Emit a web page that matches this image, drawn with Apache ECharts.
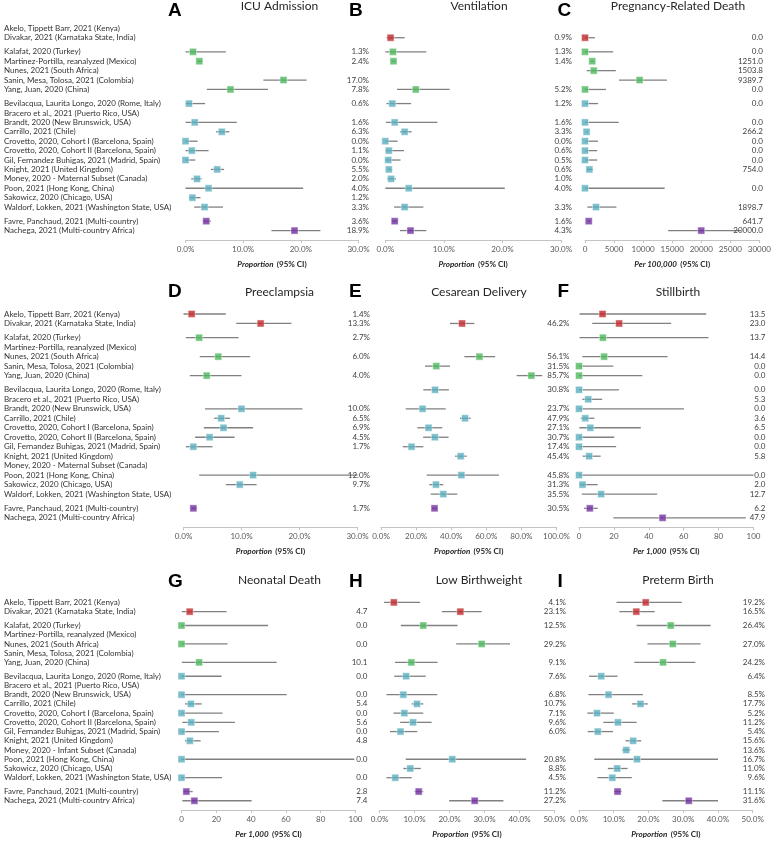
<!DOCTYPE html>
<html><head><meta charset="utf-8">
<script src="https://cdn.jsdelivr.net/npm/echarts@6/dist/echarts.min.js"></script>
<style>html,body{margin:0;padding:0;background:#fff}#c{width:774px;height:841px}</style>
</head><body><div id="c"></div>
<script>
// ---------- data ----------
const studies = [
 "Akelo, Tippett Barr, 2021 (Kenya)","Divakar, 2021 (Karnataka State, India)",
 "Kalafat, 2020 (Turkey)","Martinez-Portilla, reanalyzed (Mexico)","Nunes, 2021 (South Africa)","Sanin, Mesa, Tolosa, 2021 (Colombia)","Yang, Juan, 2020 (China)",
 "Bevilacqua, Laurita Longo, 2020 (Rome, Italy)","Bracero et al., 2021 (Puerto Rico, USA)","Brandt, 2020 (New Brunswick, USA)","Carrillo, 2021 (Chile)","Crovetto, 2020, Cohort I (Barcelona, Spain)","Crovetto, 2020, Cohort II (Barcelona, Spain)","Gil, Fernandez Buhigas, 2021 (Madrid, Spain)","Knight, 2021 (United Kingdom)","Money, 2020 - Maternal Subset (Canada)","Poon, 2021 (Hong Kong, China)","Sakowicz, 2020 (Chicago, USA)","Waldorf, Lokken, 2021 (Washington State, USA)",
 "Favre, Panchaud, 2021 (Multi-country)","Nachega, 2021 (Multi-country Africa)"];
const studiesInfant = studies.map(s => s.replace("Maternal Subset", "Infant Subset"));
const groupSizes = [2, 5, 12, 2];

const icuEst = [null,null,1.3,2.4,null,17.0,7.8,0.6,null,1.6,6.3,0.0,1.1,0.0,5.5,2.0,4.0,1.2,3.3,3.6,18.9];
const icuLo  = [null,null,0,2.0,null,13.5,3.7,0,null,0,5.3,0,0,0,4.4,1.0,0,0.6,1.5,3.0,14.9];
const icuHi  = [null,null,7.0,2.9,null,21.0,14.3,3.4,null,8.9,7.6,2.1,4.0,1.7,6.7,2.8,20.4,2.6,6.5,4.4,23.4];

const ventEst = [null,0.9,1.3,1.4,null,null,5.2,1.2,null,1.6,3.3,0.0,0.6,0.5,0.6,1.0,4.0,null,3.3,1.6,4.3];
const ventLo  = [null,0.2,0,1.1,null,null,2.0,0.2,null,0.1,2.5,0,0,0,0.4,0.3,0,null,1.5,1.2,2.5];
const ventHi  = [null,3.3,7.0,1.8,null,null,11.0,4.4,null,8.9,4.5,2.1,3.2,2.6,1.0,1.8,20.4,null,6.5,2.1,7.0];

const deathEst = [null,0,0,1251.0,1503.8,9389.7,0,0,null,0,266.2,0,0,0,754.0,null,0,null,1898.7,641.7,20000.0];
const deathLo  = [null,0,0,1000,300,5850,0,0,null,0,150,0,0,0,350,null,0,null,400,450,14300];
const deathHi  = [null,1700,4850,1500,5300,14100,3600,2250,null,5800,500,2250,2100,2100,1400,null,13700,null,5400,850,26850];

const preEst = [1.4,13.3,2.7,null,6.0,null,4.0,null,null,10.0,6.5,6.9,4.5,1.7,null,null,12.0,9.7,null,1.7,null];
const preLo  = [0,9.1,0.4,null,2.8,null,1.1,null,null,3.7,5.3,3.5,2.0,0.4,null,null,2.7,7.3,null,1.4,null];
const preHi  = [7.3,18.6,9.5,null,11.5,null,10.0,null,null,20.5,8.0,12.0,8.8,5.0,null,null,30.0,12.6,null,2.3,null];

const cesEst = [null,46.2,null,null,56.1,31.5,85.7,30.8,null,23.7,47.9,27.1,30.7,17.4,45.4,null,45.8,31.3,35.5,30.5,null];
const cesLo  = [null,39.3,null,null,47.5,25.1,77.3,24.1,null,14.1,45.0,20.7,24.0,12.4,42.2,null,26.0,27.5,28.3,29.0,null];
const cesHi  = [null,53.2,null,null,65.0,39.3,91.9,38.7,null,36.9,51.1,34.9,38.5,24.1,48.8,null,67.2,35.5,43.5,32.0,null];

const stillEst = [13.5,23.0,13.7,null,14.4,0,0,0,5.3,0,3.6,6.5,0,0,5.8,null,0,2.0,12.7,6.2,47.9];
const stillLo  = [0.3,7.6,0.3,null,1.9,0,0,0,1.9,0,1.0,0.2,0,0,2.1,null,0,0.4,1.6,2.9,19.7];
const stillHi  = [72.9,52.8,74.2,null,50.7,19.7,36.3,22.9,13.3,60.2,8.8,35.4,20.2,21.3,12.4,null,100,10.7,44.8,10.7,95.6];

const neoEst = [null,4.7,0,null,0,null,10.1,0,null,0,5.4,0,5.6,0,4.8,null,0,null,0,2.8,7.4];
const neoLo  = [null,0.2,0,null,0,null,0.2,0,null,0,2.0,0,0.5,0,2.0,null,0,null,0,1.0,0.5];
const neoHi  = [null,25.9,49.8,null,26.5,null,54.7,23.0,null,60.5,11.6,23.6,30.7,21.5,11.0,null,99.3,null,23.3,6.4,40.3];

const lbwEst = [4.1,23.1,12.5,null,29.2,null,9.1,7.6,null,6.8,10.7,7.1,9.6,6.0,null,null,20.8,8.8,4.5,11.2,27.2];
const lbwLo  = [1.3,17.8,6.1,null,21.9,null,4.4,4.2,null,2.0,9.2,4.0,5.9,3.0,null,null,7.5,6.8,2.0,10.0,19.9];
const lbwHi  = [11.6,29.2,22.3,null,37.3,null,16.6,13.2,null,16.5,12.5,12.5,14.9,10.8,null,null,41.9,11.8,9.2,12.5,35.4];

const ptbEst = [19.2,16.5,26.4,null,27.0,null,24.2,6.4,null,8.5,17.7,5.2,11.2,5.4,15.6,13.6,16.7,11.0,9.6,11.1,31.6];
const ptbLo  = [10.8,11.6,16.6,null,19.7,null,15.9,2.9,null,2.7,15.3,2.4,7.0,2.5,13.4,12.4,4.4,8.3,5.3,10.0,24.0];
const ptbHi  = [29.6,21.8,37.9,null,35.0,null,33.5,11.1,null,18.4,19.8,10.0,16.6,9.8,17.9,14.8,40.0,14.0,15.2,12.3,40.0];

const panelLetters = ["A","B","C","D","E","F","G","H","I"];
const panelTitles = ["ICU Admission","Ventilation","Pregnancy-Related Death","Preeclampsia","Cesarean Delivery","Stillbirth","Neonatal Death","Low Birthweight","Preterm Birth"];
const axisUnits = ["Proportion","Proportion","Per 100,000","Proportion","Proportion","Per 1,000","Per 1,000","Proportion","Proportion"];
const axisMax = [30,30,30000,30,100,100,100,50,50];
const axisStep = [10,10,5000,10,20,20,20,10,10];
const isPct = [true,true,false,true,true,false,false,true,true];

// ---------- styling / layout ----------
const groupColors = ['#c0282d','#4cb85b','#5aafc1','#7030a0'];
const FONT = 'Lato, "Open Sans", sans-serif';
const panels = [
 {est:icuEst,lo:icuLo,hi:icuHi},{est:ventEst,lo:ventLo,hi:ventHi},{est:deathEst,lo:deathLo,hi:deathHi},
 {est:preEst,lo:preLo,hi:preHi},{est:cesEst,lo:cesLo,hi:cesHi},{est:stillEst,lo:stillLo,hi:stillHi},
 {est:neoEst,lo:neoLo,hi:neoHi},{est:lbwEst,lo:lbwLo,hi:lbwHi},{est:ptbEst,lo:ptbLo,hi:ptbHi}];
const rowsLayout = [{top:18.9,h:221.1},{top:304.5,h:222.8},{top:593.2,h:222.3}];
const colsLayout = [
 [{l:185.5,w:173},{l:385.3,w:175.7},{l:585,w:175}],
 [{l:183.5,w:174},{l:381,w:175.5},{l:579,w:174.5}],
 [{l:181.5,w:174},{l:379.5,w:175},{l:579,w:173.7}]];
const valueTextX = [369,572,763,370,569.5,765.5,367.5,566,765];
const letterX = [175,356,564.5], titleX = [279.5,479,678];
const letterY = [10,291,581], titleY = [6,292,580];

// row positions (gap of half a row between groups)
const groupOf = [], rowPos = [];
groupSizes.forEach((n,g)=>{ for(let k=0;k<n;k++){ groupOf.push(g); rowPos.push(groupOf.length-1 + 0.5*g); } });

const grid=[], xAxis=[], yAxis=[], series=[], graphic=[];
panels.forEach((p,i)=>{
  const r=Math.floor(i/3), c=i%3, L=colsLayout[r][c], R=rowsLayout[r];
  grid.push({left:L.l, top:R.top, width:L.w, height:R.h, containLabel:false});
  xAxis.push({type:'value', gridIndex:i, min:0, max:axisMax[i], interval:axisStep[i], position:'bottom',
    axisLine:{show:true, onZero:false, lineStyle:{color:'#c4c4c4', width:1}},
    axisTick:{show:true, length:3, lineStyle:{color:'#c4c4c4'}},
    splitLine:{show:false},
    axisLabel:{fontFamily:FONT, fontSize:8, color:'#595959', margin:5,
      formatter: v => isPct[i] ? v.toFixed(1)+'%' : String(v)},
    name:'{a|'+axisUnits[i]+'} {b|(95% CI)}', nameLocation:'middle', nameGap:18,
    nameTextStyle:{rich:{a:{fontFamily:FONT,fontSize:8,fontStyle:'italic',fontWeight:'bold',color:'#262626'},
                         b:{fontFamily:FONT,fontSize:8,fontWeight:'bold',color:'#262626'}}}
  });
  yAxis.push({type:'value', gridIndex:i, inverse:true, min:-1, max:22.5, show:false});

  const ciData=[], ptData=[], txtData=[];
  p.est.forEach((e,k)=>{
    if(e===null) return;
    ciData.push([p.lo[k], p.hi[k], rowPos[k]]);
    ptData.push({value:[e,rowPos[k]], itemStyle:{color:groupColors[groupOf[k]]}});
    txtData.push([e,rowPos[k]]);
  });
  const maxV=axisMax[i];
  series.push({type:'custom', xAxisIndex:i, yAxisIndex:i, z:2, data:ciData, encode:{x:[0,1],y:2},
    renderItem:(params,api)=>{
      const lo=api.value(0), hi=Math.min(api.value(1),maxV), y=api.value(2);
      const p1=api.coord([lo,y]), p2=api.coord([hi,y]);
      return {type:'line', shape:{x1:p1[0],y1:p1[1],x2:p2[0],y2:p2[1]}, style:{stroke:'#808080', lineWidth:1.3}};
    }});
  series.push({type:'scatter', xAxisIndex:i, yAxisIndex:i, z:3, symbol:'rect', symbolSize:7,
    itemStyle:{borderColor:'rgba(255,255,255,0.55)', borderWidth:1}, data:ptData});
  const tx=valueTextX[i], pct=isPct[i];
  series.push({type:'custom', xAxisIndex:i, yAxisIndex:i, z:3, data:txtData, encode:{x:0,y:1},
    renderItem:(params,api)=>{
      const pt=api.coord([0,api.value(1)]);
      const s=api.value(0).toFixed(1)+(pct?'%':'');
      return {type:'text', x:tx, y:pt[1], style:{text:s, align:'right', verticalAlign:'middle', textAlign:'right', textVerticalAlign:'middle', fontFamily:FONT, fontSize:8, fill:'#404040'}};
    }});
  if(c===0){
    const names = r===2 ? studiesInfant : studies;
    series.push({type:'custom', xAxisIndex:i, yAxisIndex:i, z:3, data:rowPos.map(v=>[0,v]), encode:{x:0,y:1},
      renderItem:(params,api)=>{
        const pt=api.coord([0,api.value(1)]);
        return {type:'text', x:4, y:pt[1], style:{text:names[params.dataIndex], align:'left', verticalAlign:'middle', textAlign:'left', textVerticalAlign:'middle', fontFamily:FONT, fontSize:8, fill:'#333'}};
      }});
  }
  graphic.push({type:'text', left:letterX[c]-7, top:letterY[r]-9, style:{text:panelLetters[i], font:'bold 19px "Liberation Sans", Arial, sans-serif', fill:'#000'}});
  graphic.push({type:'text', x:titleX[c], y:titleY[r], style:{text:panelTitles[i], fontFamily:FONT, fontSize:12, fill:'#262626', align:'center', verticalAlign:'middle', textAlign:'center', textVerticalAlign:'middle'}});
});

const chart = echarts.init(document.getElementById('c'), null, {renderer:'canvas'});
chart.setOption({animation:false, backgroundColor:'#fff', grid, xAxis, yAxis, series, graphic});
</script>
</body></html>
